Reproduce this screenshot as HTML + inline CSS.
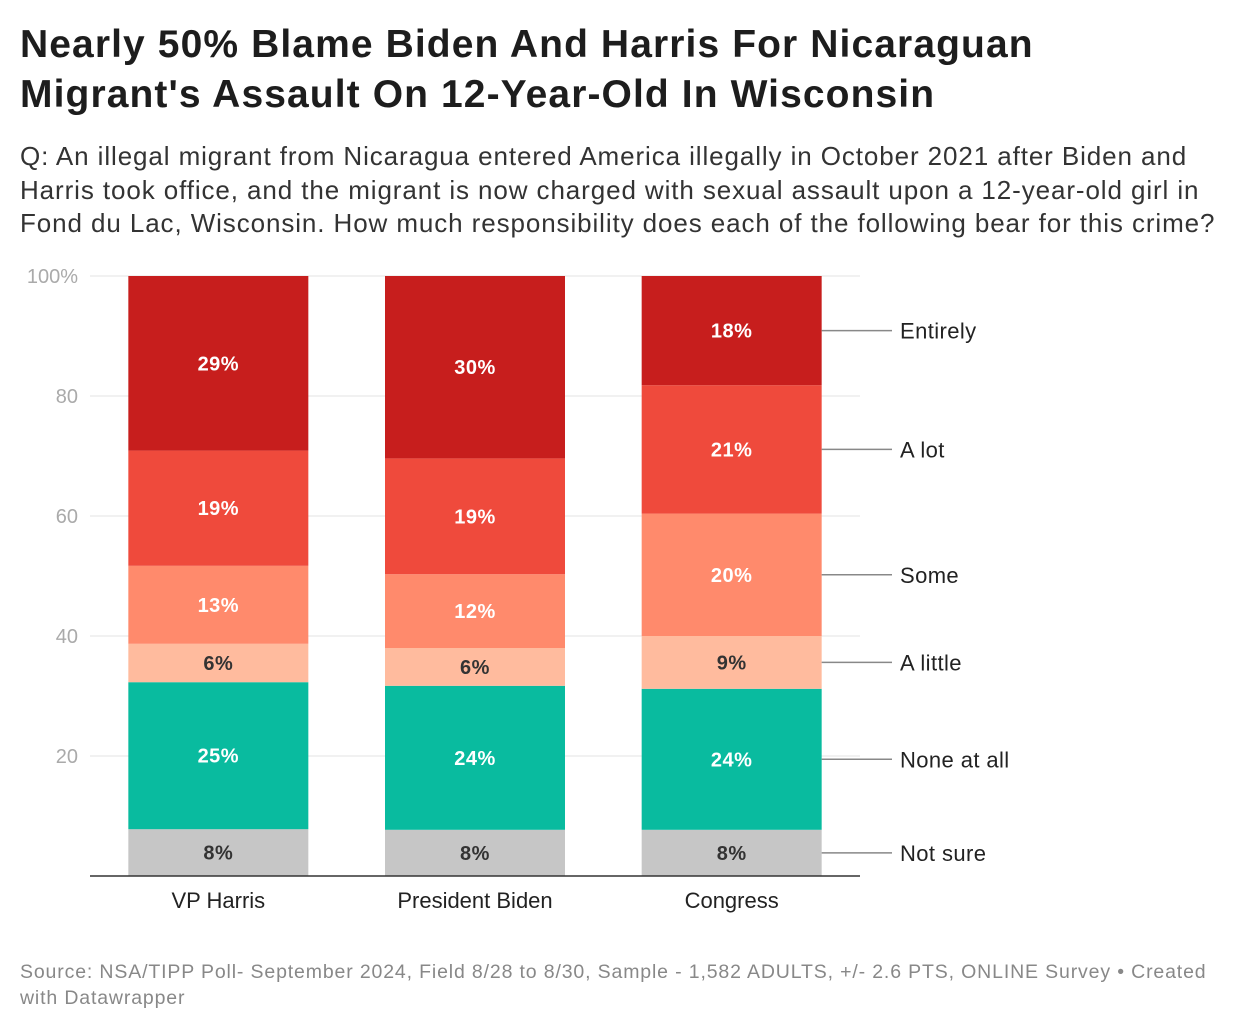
<!DOCTYPE html>
<html><head><meta charset="utf-8">
<style>
body{margin:0;width:1240px;height:1032px;background:#fff;font-family:"Liberation Sans",sans-serif;position:relative;overflow:hidden}
h1{position:absolute;left:20px;top:20px;margin:0;font-size:39px;line-height:50px;font-weight:bold;color:#1d1d1d;letter-spacing:1.1px;white-space:nowrap}
.sub{position:absolute;left:20px;top:140px;margin:0;font-size:26px;line-height:33.5px;color:#333;letter-spacing:0.9px;white-space:nowrap}
.foot{position:absolute;left:20px;top:959px;font-size:19.5px;line-height:26px;color:#888;letter-spacing:0.85px;white-space:nowrap}
svg{position:absolute;left:0;top:0}
</style></head><body>
<h1>Nearly 50% Blame Biden And Harris For Nicaraguan<br>Migrant's Assault On 12-Year-Old In Wisconsin</h1>
<p class="sub">Q: An illegal migrant from Nicaragua entered America illegally in October 2021 after Biden and<br>Harris took office, and the migrant is now charged with sexual assault upon a 12-year-old girl in<br>Fond du Lac, Wisconsin. How much responsibility does each of the following bear for this crime?</p>
<svg id="chart" width="1240" height="1032"></svg>
<div class="foot">Source: NSA/TIPP Poll- September 2024, Field 8/28 to 8/30, Sample - 1,582 ADULTS, +/- 2.6 PTS, ONLINE Survey • Created<br>with Datawrapper</div>
<script>
const categories=["VP Harris","President Biden","Congress"];
const seriesNames=["Not sure","None at all","A little","Some","A lot","Entirely"];
const notSure=[7.8,7.7,7.7];
const noneAtAll=[24.5,24,23.5];
const aLittle=[6.4,6.3,8.8];
const some=[13,12.3,20.4];
const aLot=[19.2,19.3,21.4];
const entirely=[29.1,30.4,18.2];
const yTicks=[20,40,60,80,100];
const series=[notSure,noneAtAll,aLittle,some,aLot,entirely];
const colors=["#c6c6c6","#09bb9f","#ffbb9e","#ff8a6c","#ef4a3c","#c71e1d"];
const labelColors=["#333","#fff","#333","#fff","#fff","#fff"];
const NS="http://www.w3.org/2000/svg";
const svg=document.getElementById('chart');
const x0=90,x1=860,yTop=276,yBot=876;
const y=v=>yBot-(v/100)*(yBot-yTop);
const bandW=(x1-x0)/categories.length, barW=180;
const bx=i=>x0+bandW*i+(bandW-barW)/2;
function mk(tag,attrs){const e=document.createElementNS(NS,tag);for(const k in attrs)e.setAttribute(k,attrs[k]);svg.appendChild(e);return e;}
yTicks.forEach(t=>{
  const g=mk('line',{x1:x0,x2:x1,y1:y(t),y2:y(t),stroke:'#e3e3e3','stroke-width':1});
  
  
  const tx=mk('text',{x:78,y:y(t)+7,'text-anchor':'end','font-size':20,fill:'#aaa'});
  tx.textContent=t===100?'100%':t;
  
  
});
categories.forEach((c,i)=>{
  let cum=0;
  series.forEach((s,j)=>{
    const v=s[i];
    const r=mk('rect',{x:bx(i),y:y(cum+v),width:barW,height:y(cum)-y(cum+v),fill:colors[j]});
    
    
    const t=mk('text',{x:bx(i)+barW/2,y:(y(cum)+y(cum+v))/2+7,'text-anchor':'middle','font-size':20,'font-weight':'bold',fill:labelColors[j],'letter-spacing':0.5});
    t.textContent=Math.round(v)+'%';
    
    
    if(i===categories.length-1){
      const ly=(y(cum)+y(cum+v))/2;
      const l=mk('line',{x1:bx(i)+barW,x2:892,y1:ly,y2:ly,stroke:'#888','stroke-width':1.5});
      
      
      const lt=mk('text',{x:900,y:ly+8,'font-size':22,fill:'#222','letter-spacing':0.4});
      lt.textContent=seriesNames[j];
      
      
    }
    cum+=v;
  });
  const xl=mk('text',{x:bx(i)+barW/2,y:908,'text-anchor':'middle','font-size':22,fill:'#222'});
  xl.textContent=c;
  
  
});
const base=mk('line',{x1:x0,x2:x1,y1:yBot,y2:yBot,stroke:'#333','stroke-width':1.5});


</script>
</body></html>
